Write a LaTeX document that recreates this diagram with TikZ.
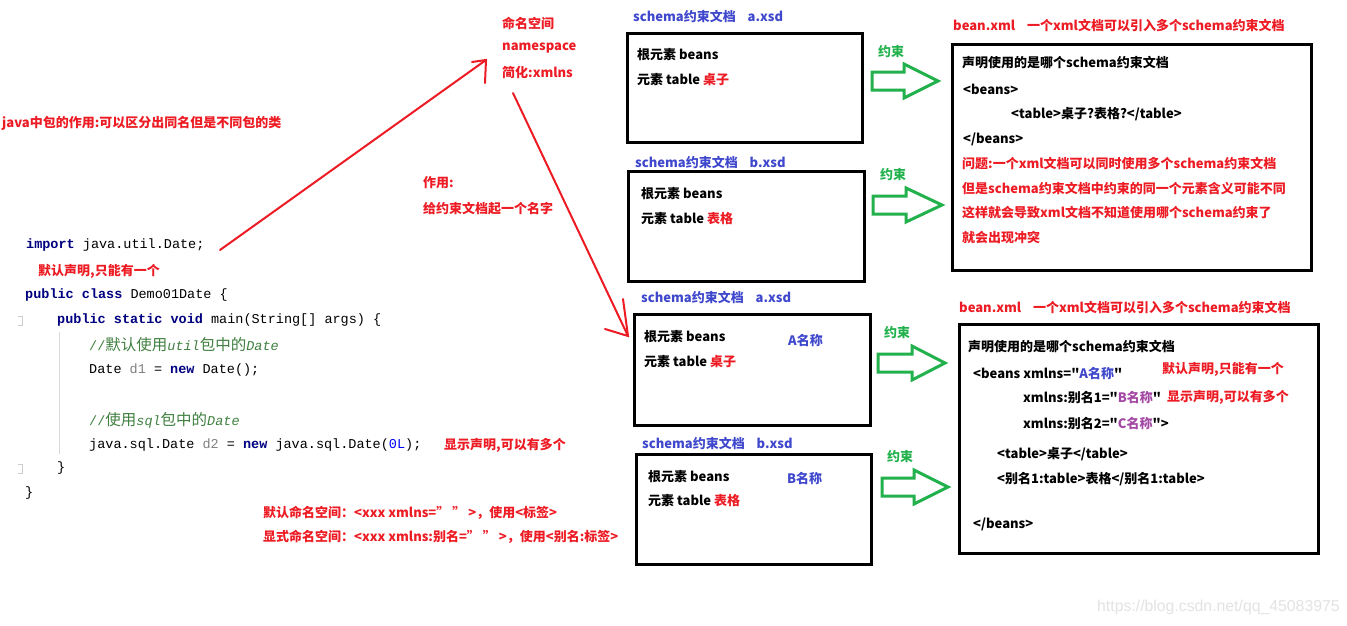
\documentclass[tikz,border=0pt]{standalone}
\usepackage{fontspec}
\newfontfamily\yh{Noto Sans CJK SC}
\newfontfamily\mono{Liberation Mono}
\newfontfamily\wmfont{Liberation Sans}
\definecolor{xred}{RGB}{237,28,36}
\definecolor{xgreen}{RGB}{34,177,76}
\definecolor{xblue}{RGB}{63,72,204}
\definecolor{xpurple}{RGB}{163,73,164}
\definecolor{kwc}{RGB}{0,0,128}
\definecolor{cmc}{RGB}{64,128,64}
\definecolor{numc}{RGB}{0,0,255}
\definecolor{varc}{RGB}{128,128,128}
\newcommand\kw[1]{\textcolor{kwc}{\bfseries #1}}
\newcommand\cjc[1]{{\yh\fontsize{15.5}{16}\selectfont #1}}
\tikzset{
  txt/.style={anchor=west, inner sep=0pt, font=\yh\bfseries\fontsize{13}{15}\selectfont},
  rtxt/.style={txt, text=xred},
  btxt/.style={txt, text=xblue},
  gtxt/.style={txt, text=xgreen},
  code/.style={anchor=west, inner sep=0pt, font=\mono\fontsize{13.5}{16}\selectfont},
  box/.style={draw=black, line width=3pt, anchor=north west, inner sep=0pt},
  redline/.style={draw=xred, line width=2pt, line cap=round},
  garrow/.style={draw=xgreen, line width=3pt, fill=white, line join=miter},
}
\newcommand\greenarrow[5]{% x0, xh, xt, ymid, name
  \draw[garrow] (#1,#4-9) -- (#2,#4-9) -- (#2,#4-17) -- (#3,#4) -- (#2,#4+17) -- (#2,#4+9) -- (#1,#4+9) -- cycle;
  \coordinate (#5) at (#3,#4);
}
\begin{document}
\begin{tikzpicture}[x=1pt,y=-1pt]
\fill[white] (0,0) rectangle (1347,625);
\useasboundingbox (0,0) rectangle (1347,625);

% left explanation
\node[rtxt] (pkg) at (2,123) {java中包的作用:可以区分出同名但是不同包的类};

% code
\draw[gray!30, line width=0.8pt] (59,332) -- (59,454);
\draw[gray!40, line width=0.6pt] (18,316) -- (22,316) -- (22,325) -- (18,325);
\draw[gray!40, line width=0.6pt] (18,464) -- (22,464) -- (22,473) -- (18,473);
\node[code] (c1) at (26,245) {\kw{import} java.util.Date;};
\node[rtxt] (defdecl) at (38,271) {默认声明,只能有一个};
\node[code] (c2) at (25,295) {\kw{public class} Demo01Date \{};
\node[code] (c3) at (57,320) {\kw{public static void} main(String[] args) \{};
\node[code, text=cmc] (c4) at (89,345) {//\cjc{默认使用}\textit{util}\cjc{包中的}\textit{Date}};
\node[code] (c5) at (89,370) {Date \textcolor{varc}{d1} = \kw{new} Date();};
\node[code, text=cmc] (c6) at (89,420) {//\cjc{使用}\textit{sql}\cjc{包中的}\textit{Date}};
\node[code] (c7) at (89,445) {java.sql.Date \textcolor{varc}{d2} = \kw{new} java.sql.Date(\textcolor{numc}{0L});};
\node[rtxt] (expdecl) at (444,445) {显示声明,可以有多个};
\node[code] (c8) at (57,468) {\}};
\node[code] (c9) at (25,493) {\}};

\node[rtxt] (defns) at (263,513) {默认命名空间：<xxx xmlns=” ” >，使用<标签>};
\node[rtxt] (expns) at (263,537) {显式命名空间：<xxx xmlns:别名=” ” >，使用<别名:标签>};

% namespace notes
\node[rtxt] (ns1) at (502,23) {命名空间};
\node[rtxt] (ns2) at (502,48) {namespace};
\node[rtxt] (ns3) at (502,72) {简化:xmlns};
\node[rtxt] (use1) at (423,183) {作用:};
\node[rtxt] (use2) at (423,209) {给约束文档起一个名字};

% red arrows
\coordinate (a1s) at (220,250);
\coordinate (a1t) at (486,60);
\coordinate (a2s) at (513,93);
\coordinate (a2t) at (628,336);
\draw[redline] (a1s) -- (a1t);
\draw[redline] (472,62) -- (a1t) -- (485,83);
\draw[redline] (a2s) -- (a2t);
\draw[redline] (623,299) -- (a2t) -- (605,329);

% schema boxes, top
\node[btxt] (la1) at (633,16) {schema约束文档\ \ \ \ a.xsd};
\node[box, minimum width=235, minimum height=109] (xa1) at (626,32) {};
\node[txt] (xa1l1) at (637,55) {根元素 beans};
\node[txt] (xa1l2) at (637,80) {元素 table \textcolor{xred}{桌子}};

\node[btxt] (lb1) at (635,162) {schema约束文档\ \ \ \ b.xsd};
\node[box, minimum width=236, minimum height=110] (xb1) at (627,170) {};
\node[txt] (xb1l1) at (641,194) {根元素 beans};
\node[txt] (xb1l2) at (641,219) {元素 table \textcolor{xred}{表格}};

\node[gtxt] (g1) at (878,52) {约束};
\greenarrow{872}{904}{938}{81}{ga1}
\node[gtxt] (g2) at (880,175) {约束};
\greenarrow{873}{906}{942}{205}{ga2}

% bean.xml top
\node[rtxt] (rt1) at (953,25) {bean.xml\ \ \ \ 一个xml文档可以引入多个schema约束文档};
\node[box, minimum width=359, minimum height=226] (r1) at (951,43) {};
\node[txt] (r1a) at (962,63) {声明使用的是哪个schema约束文档};
\node[txt] (r1b) at (963,89) {<beans>};
\node[txt] (r1c) at (1011,114) {<table>桌子?表格?</table>};
\node[txt] (r1d) at (963,139) {</beans>};
\node[rtxt] (r1e) at (962,164) {问题:一个xml文档可以同时使用多个schema约束文档};
\node[rtxt] (r1f) at (962,189) {但是schema约束文档中约束的同一个元素含义可能不同};
\node[rtxt] (r1g) at (962,213) {这样就会导致xml文档不知道使用哪个schema约束了};
\node[rtxt] (r1h) at (962,238) {就会出现冲突};

% schema boxes, bottom
\node[btxt] (la2) at (641,297) {schema约束文档\ \ \ \ a.xsd};
\node[box, minimum width=236, minimum height=111] (xa2) at (633,313) {};
\node[txt] (xa2l1) at (644,337) {根元素 beans};
\node[txt] (xa2l2) at (644,362) {元素 table \textcolor{xred}{桌子}};
\node[btxt] (xa2n) at (788,341) {A名称};

\node[btxt] (lb2) at (642,443) {schema约束文档\ \ \ \ b.xsd};
\node[box, minimum width=235, minimum height=110] (xb2) at (635,453) {};
\node[txt] (xb2l1) at (648,477) {根元素 beans};
\node[txt] (xb2l2) at (648,501) {元素 table \textcolor{xred}{表格}};
\node[btxt] (xb2n) at (787,479) {B名称};

\node[gtxt] (g3) at (884,333) {约束};
\greenarrow{878}{912}{945}{363}{ga3}
\node[gtxt] (g4) at (887,457) {约束};
\greenarrow{882}{914}{948}{487}{ga4}

% bean.xml bottom
\node[rtxt] (rt2) at (959,307) {bean.xml\ \ \ \ 一个xml文档可以引入多个schema约束文档};
\node[box, minimum width=359, minimum height=229] (r2) at (958,323) {};
\node[txt] (r2a) at (968,347) {声明使用的是哪个schema约束文档};
\node[txt] (r2b) at (973,374) {<beans xmlns="\textcolor{xblue}{A名称}"};
\node[txt] (r2c) at (1023,398) {xmlns:别名1="\textcolor{xpurple}{B名称}"};
\node[txt] (r2d) at (1023,424) {xmlns:别名2="\textcolor{xpurple}{C名称}">};
\node[txt] (r2e) at (997,454) {<table>桌子</table>};
\node[txt] (r2f) at (997,479) {<别名1:table>表格</别名1:table>};
\node[txt] (r2g) at (973,524) {</beans>};
\node[rtxt] (r2n1) at (1162,369) {默认声明,只能有一个};
\node[rtxt] (r2n2) at (1167,397) {显示声明,可以有多个};

% watermark
\node[anchor=west, inner sep=0pt, font=\wmfont\fontsize{15.8}{18}\selectfont, text=gray!22] (wm) at (1097,607) {https://blog.csdn.net/qq\_45083975};
\end{tikzpicture}
\end{document}
